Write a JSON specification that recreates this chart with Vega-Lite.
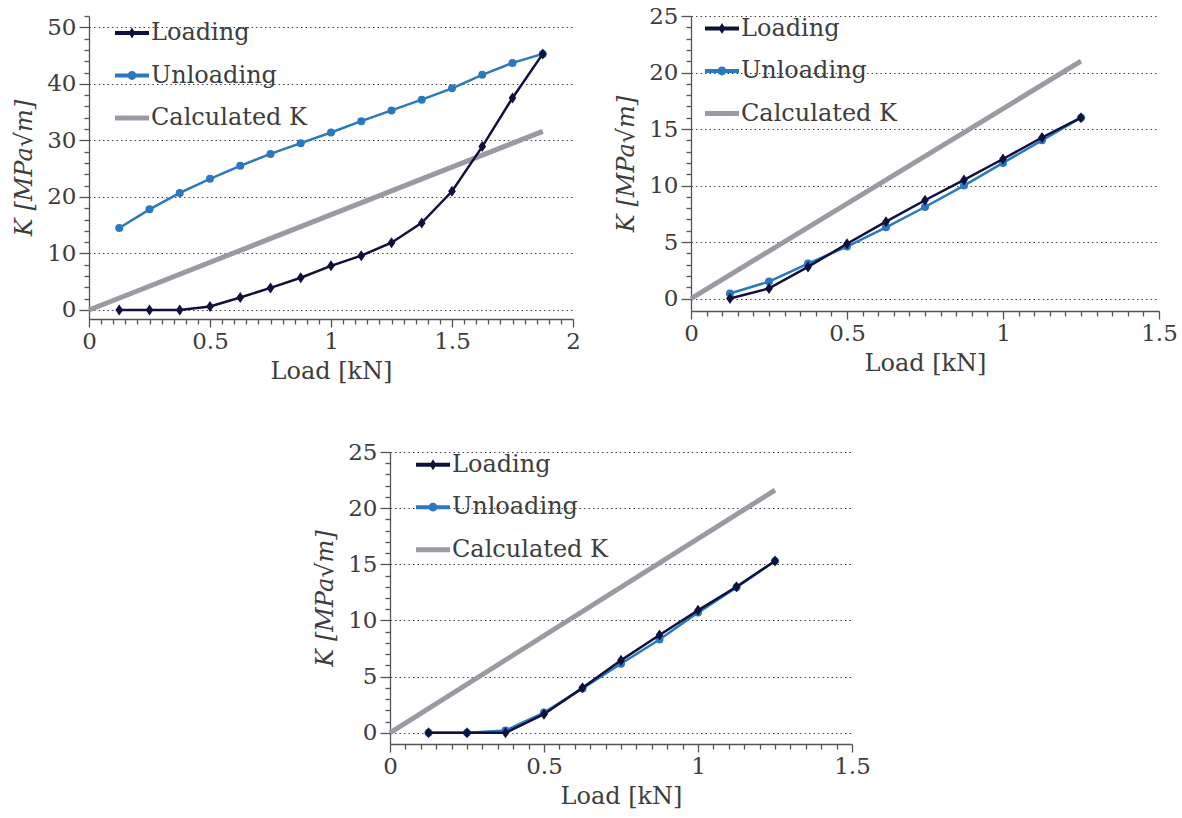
{
  "$schema": "https://vega.github.io/schema/vega-lite/v6.json",
  "padding": {"left": 12, "top": 5, "right": 5, "bottom": 5},
  "spacing": 58,
  "resolve": {"scale": {"color": "independent", "shape": "independent"}},
  "datasets": {
    "main": [
      {"p": 1, "s": "Calculated K", "x": 0, "y": 0},
      {"p": 1, "s": "Calculated K", "x": 1.875, "y": 31.6},
      {"p": 1, "s": "Loading", "x": 0.125, "y": 0},
      {"p": 1, "s": "Loading", "x": 0.25, "y": 0},
      {"p": 1, "s": "Loading", "x": 0.375, "y": 0},
      {"p": 1, "s": "Loading", "x": 0.5, "y": 0.6},
      {"p": 1, "s": "Loading", "x": 0.625, "y": 2.2},
      {"p": 1, "s": "Loading", "x": 0.75, "y": 3.9},
      {"p": 1, "s": "Loading", "x": 0.875, "y": 5.7},
      {"p": 1, "s": "Loading", "x": 1.0, "y": 7.8},
      {"p": 1, "s": "Loading", "x": 1.125, "y": 9.6},
      {"p": 1, "s": "Loading", "x": 1.25, "y": 11.9},
      {"p": 1, "s": "Loading", "x": 1.375, "y": 15.4},
      {"p": 1, "s": "Loading", "x": 1.5, "y": 21.0},
      {"p": 1, "s": "Loading", "x": 1.625, "y": 28.9},
      {"p": 1, "s": "Loading", "x": 1.75, "y": 37.5},
      {"p": 1, "s": "Loading", "x": 1.875, "y": 45.3},
      {"p": 1, "s": "Unloading", "x": 0.125, "y": 14.5},
      {"p": 1, "s": "Unloading", "x": 0.25, "y": 17.8},
      {"p": 1, "s": "Unloading", "x": 0.375, "y": 20.7},
      {"p": 1, "s": "Unloading", "x": 0.5, "y": 23.2},
      {"p": 1, "s": "Unloading", "x": 0.625, "y": 25.5},
      {"p": 1, "s": "Unloading", "x": 0.75, "y": 27.6},
      {"p": 1, "s": "Unloading", "x": 0.875, "y": 29.5},
      {"p": 1, "s": "Unloading", "x": 1.0, "y": 31.4},
      {"p": 1, "s": "Unloading", "x": 1.125, "y": 33.4},
      {"p": 1, "s": "Unloading", "x": 1.25, "y": 35.3},
      {"p": 1, "s": "Unloading", "x": 1.375, "y": 37.2},
      {"p": 1, "s": "Unloading", "x": 1.5, "y": 39.2},
      {"p": 1, "s": "Unloading", "x": 1.625, "y": 41.6},
      {"p": 1, "s": "Unloading", "x": 1.75, "y": 43.7},
      {"p": 1, "s": "Unloading", "x": 1.875, "y": 45.3},
      {"p": 2, "s": "Calculated K", "x": 0, "y": 0},
      {"p": 2, "s": "Calculated K", "x": 1.25, "y": 21.0},
      {"p": 2, "s": "Loading", "x": 0.125, "y": 0},
      {"p": 2, "s": "Loading", "x": 0.25, "y": 0.9},
      {"p": 2, "s": "Loading", "x": 0.375, "y": 2.8},
      {"p": 2, "s": "Loading", "x": 0.5, "y": 4.85},
      {"p": 2, "s": "Loading", "x": 0.625, "y": 6.8},
      {"p": 2, "s": "Loading", "x": 0.75, "y": 8.7},
      {"p": 2, "s": "Loading", "x": 0.875, "y": 10.5},
      {"p": 2, "s": "Loading", "x": 1.0, "y": 12.35},
      {"p": 2, "s": "Loading", "x": 1.125, "y": 14.25},
      {"p": 2, "s": "Loading", "x": 1.25, "y": 16.0},
      {"p": 2, "s": "Unloading", "x": 0.125, "y": 0.45},
      {"p": 2, "s": "Unloading", "x": 0.25, "y": 1.5},
      {"p": 2, "s": "Unloading", "x": 0.375, "y": 3.1},
      {"p": 2, "s": "Unloading", "x": 0.5, "y": 4.6},
      {"p": 2, "s": "Unloading", "x": 0.625, "y": 6.3},
      {"p": 2, "s": "Unloading", "x": 0.75, "y": 8.1},
      {"p": 2, "s": "Unloading", "x": 0.875, "y": 10.0},
      {"p": 2, "s": "Unloading", "x": 1.0, "y": 12.0},
      {"p": 2, "s": "Unloading", "x": 1.125, "y": 14.0},
      {"p": 2, "s": "Unloading", "x": 1.25, "y": 16.0},
      {"p": 3, "s": "Calculated K", "x": 0, "y": 0},
      {"p": 3, "s": "Calculated K", "x": 1.25, "y": 21.6},
      {"p": 3, "s": "Loading", "x": 0.125, "y": 0},
      {"p": 3, "s": "Loading", "x": 0.25, "y": 0},
      {"p": 3, "s": "Loading", "x": 0.375, "y": 0},
      {"p": 3, "s": "Loading", "x": 0.5, "y": 1.65},
      {"p": 3, "s": "Loading", "x": 0.625, "y": 4.0},
      {"p": 3, "s": "Loading", "x": 0.75, "y": 6.45},
      {"p": 3, "s": "Loading", "x": 0.875, "y": 8.7},
      {"p": 3, "s": "Loading", "x": 1.0, "y": 10.9},
      {"p": 3, "s": "Loading", "x": 1.125, "y": 13.0},
      {"p": 3, "s": "Loading", "x": 1.25, "y": 15.3},
      {"p": 3, "s": "Unloading", "x": 0.125, "y": 0},
      {"p": 3, "s": "Unloading", "x": 0.25, "y": 0},
      {"p": 3, "s": "Unloading", "x": 0.375, "y": 0.2},
      {"p": 3, "s": "Unloading", "x": 0.5, "y": 1.8},
      {"p": 3, "s": "Unloading", "x": 0.625, "y": 3.95},
      {"p": 3, "s": "Unloading", "x": 0.75, "y": 6.15},
      {"p": 3, "s": "Unloading", "x": 0.875, "y": 8.3},
      {"p": 3, "s": "Unloading", "x": 1.0, "y": 10.7},
      {"p": 3, "s": "Unloading", "x": 1.125, "y": 12.95},
      {"p": 3, "s": "Unloading", "x": 1.25, "y": 15.3}
    ]
  },
  "vconcat": [
    {
      "bounds": "flush",
      "spacing": 118,
      "resolve": {"scale": {"color": "independent", "shape": "independent"}},
      "hconcat": [
        {
          "width": 484,
          "height": 303,
          "data": {"name": "main"},
          "transform": [{"filter": "datum.p == 1"}],
          "encoding": {
            "x": {"field": "x", "type": "quantitative", "scale": {"domain": [0, 2], "nice": false, "zero": false},
              "axis": {"title": "Load [kN]", "grid": false,
                "values": [0,0.05,0.1,0.15,0.2,0.25,0.3,0.35,0.4,0.45,0.5,0.55,0.6,0.65,0.7,0.75,0.8,0.85,0.9,0.95,1,1.05,1.1,1.15,1.2,1.25,1.3,1.35,1.4,1.45,1.5,1.55,1.6,1.65,1.7,1.75,1.8,1.85,1.9,1.95,2],
                "labelExpr": "abs(datum.value*2 - round(datum.value*2)) < 0.001 ? format(datum.value, '~g') : ''",
                "tickSize": {"condition": {"test": "abs(datum.value*2 - round(datum.value*2)) < 0.001", "value": 8}, "value": 5}}},
            "y": {"field": "y", "type": "quantitative", "scale": {"domain": [-1.6, 52], "nice": false, "zero": false},
              "axis": {"title": "K [MPa√m]", "titleFontStyle": "italic", "grid": true,
                "values": [0,2,4,6,8,10,12,14,16,18,20,22,24,26,28,30,32,34,36,38,40,42,44,46,48,50,52],
                "labelExpr": "datum.value % 10 == 0 ? format(datum.value, '~g') : ''",
                "tickSize": {"condition": {"test": "datum.value % 10 == 0", "value": 10}, "value": 5},
                "gridOpacity": {"condition": {"test": "datum.value % 10 == 0", "value": 1}, "value": 0}}}
          },
          "layer": [
            {"transform": [{"filter": "datum.s == 'Calculated K'"}], "mark": {"type": "line", "color": "#9c99a2", "strokeWidth": 5}},
            {"transform": [{"filter": "datum.s == 'Unloading'"}], "mark": {"type": "line", "color": "#2a78bd", "strokeWidth": 2.5, "point": {"filled": true, "shape": "circle", "size": 64, "color": "#2a78bd", "opacity": 1}}},
            {"transform": [{"filter": "datum.s == 'Loading'"}], "mark": {"type": "line", "color": "#10103f", "strokeWidth": 2.5, "point": {"filled": true, "shape": "M0,-1L0.7,0L0,1L-0.7,0Z", "size": 121, "color": "#10103f", "opacity": 1}}},
            {"transform": [{"filter": "false"}], "mark": {"type": "point", "filled": true, "opacity": 1},
              "encoding": {
                "color": {"field": "s", "type": "nominal", "scale": {"domain": ["Loading", "Unloading", "Calculated K"], "range": ["#10103f", "#2a78bd", "#9c99a2"]},
                  "legend": {"title": null, "orient": "none", "legendX": 26, "legendY": 0}},
                "shape": {"field": "s", "type": "nominal", "scale": {"domain": ["Loading", "Unloading", "Calculated K"], "range": ["M-1,-0.12H1V0.12H-1Z M0,-0.32L0.2,0L0,0.32L-0.2,0Z", "M-1,-0.12H1V0.12H-1Z M0.26,0A0.26,0.26 0 1,1 -0.26,0A0.26,0.26 0 1,1 0.26,0Z", "M-1,-0.15H1V0.15H-1Z"]},
                  "legend": {"title": null, "orient": "none", "legendX": 26, "legendY": 0}}
              }}
          ]
        },
        {
          "width": 468,
          "height": 295,
          "data": {"name": "main"},
          "transform": [{"filter": "datum.p == 2"}],
          "encoding": {
            "x": {"field": "x", "type": "quantitative", "scale": {"domain": [0, 1.5], "nice": false, "zero": false},
              "axis": {"title": "Load [kN]", "grid": false,
                "values": [0,0.05,0.1,0.15,0.2,0.25,0.3,0.35,0.4,0.45,0.5,0.55,0.6,0.65,0.7,0.75,0.8,0.85,0.9,0.95,1,1.05,1.1,1.15,1.2,1.25,1.3,1.35,1.4,1.45,1.5],
                "labelExpr": "abs(datum.value*2 - round(datum.value*2)) < 0.001 ? format(datum.value, '~g') : ''",
                "tickSize": {"condition": {"test": "abs(datum.value*2 - round(datum.value*2)) < 0.001", "value": 8}, "value": 5}}},
            "y": {"field": "y", "type": "quantitative", "scale": {"domain": [-1.1, 25], "nice": false, "zero": false},
              "axis": {"title": "K [MPa√m]", "titleFontStyle": "italic", "grid": true,
                "values": [0,1,2,3,4,5,6,7,8,9,10,11,12,13,14,15,16,17,18,19,20,21,22,23,24,25],
                "labelExpr": "datum.value % 5 == 0 ? format(datum.value, '~g') : ''",
                "tickSize": {"condition": {"test": "datum.value % 5 == 0", "value": 10}, "value": 5},
                "gridOpacity": {"condition": {"test": "datum.value % 5 == 0", "value": 1}, "value": 0}}}
          },
          "layer": [
            {"transform": [{"filter": "datum.s == 'Calculated K'"}], "mark": {"type": "line", "color": "#9c99a2", "strokeWidth": 5}},
            {"transform": [{"filter": "datum.s == 'Unloading'"}], "mark": {"type": "line", "color": "#2a78bd", "strokeWidth": 2.5, "point": {"filled": true, "shape": "circle", "size": 64, "color": "#2a78bd", "opacity": 1}}},
            {"transform": [{"filter": "datum.s == 'Loading'"}], "mark": {"type": "line", "color": "#10103f", "strokeWidth": 2.5, "point": {"filled": true, "shape": "M0,-1L0.7,0L0,1L-0.7,0Z", "size": 121, "color": "#10103f", "opacity": 1}}},
            {"transform": [{"filter": "false"}], "mark": {"type": "point", "filled": true, "opacity": 1},
              "encoding": {
                "color": {"field": "s", "type": "nominal", "scale": {"domain": ["Loading", "Unloading", "Calculated K"], "range": ["#10103f", "#2a78bd", "#9c99a2"]},
                  "legend": {"title": null, "orient": "none", "legendX": 14, "legendY": -4.5}},
                "shape": {"field": "s", "type": "nominal", "scale": {"domain": ["Loading", "Unloading", "Calculated K"], "range": ["M-1,-0.12H1V0.12H-1Z M0,-0.32L0.2,0L0,0.32L-0.2,0Z", "M-1,-0.12H1V0.12H-1Z M0.26,0A0.26,0.26 0 1,1 -0.26,0A0.26,0.26 0 1,1 0.26,0Z", "M-1,-0.15H1V0.15H-1Z"]},
                  "legend": {"title": null, "orient": "none", "legendX": 14, "legendY": -4.5}}
              }}
          ]
        }
      ]
    },
    {
      "bounds": "flush",
      "spacing": 20,
      "resolve": {"scale": {"color": "independent", "shape": "independent"}},
      "hconcat": [
        {
          "width": 281,
          "height": 10,
          "data": {"values": [{"a": 1}]},
          "mark": {"type": "point", "opacity": 0},
          "encoding": {}
        },
        {
          "width": 462,
          "height": 292,
          "data": {"name": "main"},
          "transform": [{"filter": "datum.p == 3"}],
          "encoding": {
            "x": {"field": "x", "type": "quantitative", "scale": {"domain": [0, 1.5], "nice": false, "zero": false},
              "axis": {"title": "Load [kN]", "grid": false,
                "values": [0,0.05,0.1,0.15,0.2,0.25,0.3,0.35,0.4,0.45,0.5,0.55,0.6,0.65,0.7,0.75,0.8,0.85,0.9,0.95,1,1.05,1.1,1.15,1.2,1.25,1.3,1.35,1.4,1.45,1.5],
                "labelExpr": "abs(datum.value*2 - round(datum.value*2)) < 0.001 ? format(datum.value, '~g') : ''",
                "tickSize": {"condition": {"test": "abs(datum.value*2 - round(datum.value*2)) < 0.001", "value": 8}, "value": 5}}},
            "y": {"field": "y", "type": "quantitative", "scale": {"domain": [-1, 25], "nice": false, "zero": false},
              "axis": {"title": "K [MPa√m]", "titleFontStyle": "italic", "grid": true,
                "values": [0,1,2,3,4,5,6,7,8,9,10,11,12,13,14,15,16,17,18,19,20,21,22,23,24,25],
                "labelExpr": "datum.value % 5 == 0 ? format(datum.value, '~g') : ''",
                "tickSize": {"condition": {"test": "datum.value % 5 == 0", "value": 10}, "value": 5},
                "gridOpacity": {"condition": {"test": "datum.value % 5 == 0", "value": 1}, "value": 0}}}
          },
          "layer": [
            {"transform": [{"filter": "datum.s == 'Calculated K'"}], "mark": {"type": "line", "color": "#9c99a2", "strokeWidth": 5}},
            {"transform": [{"filter": "datum.s == 'Unloading'"}], "mark": {"type": "line", "color": "#2a78bd", "strokeWidth": 2.5, "point": {"filled": true, "shape": "circle", "size": 64, "color": "#2a78bd", "opacity": 1}}},
            {"transform": [{"filter": "datum.s == 'Loading'"}], "mark": {"type": "line", "color": "#10103f", "strokeWidth": 2.5, "point": {"filled": true, "shape": "M0,-1L0.7,0L0,1L-0.7,0Z", "size": 121, "color": "#10103f", "opacity": 1}}},
            {"transform": [{"filter": "false"}], "mark": {"type": "point", "filled": true, "opacity": 1},
              "encoding": {
                "color": {"field": "s", "type": "nominal", "scale": {"domain": ["Loading", "Unloading", "Calculated K"], "range": ["#10103f", "#2a78bd", "#9c99a2"]},
                  "legend": {"title": null, "orient": "none", "legendX": 26, "legendY": -4.3}},
                "shape": {"field": "s", "type": "nominal", "scale": {"domain": ["Loading", "Unloading", "Calculated K"], "range": ["M-1,-0.12H1V0.12H-1Z M0,-0.32L0.2,0L0,0.32L-0.2,0Z", "M-1,-0.12H1V0.12H-1Z M0.26,0A0.26,0.26 0 1,1 -0.26,0A0.26,0.26 0 1,1 0.26,0Z", "M-1,-0.15H1V0.15H-1Z"]},
                  "legend": {"title": null, "orient": "none", "legendX": 26, "legendY": -4.3}}
              }}
          ]
        }
      ]
    }
  ],
  "config": {
    "view": {"stroke": null},
    "font": "DejaVu Serif",
    "axis": {
      "domainColor": "#555555", "domainWidth": 1.3,
      "tickColor": "#555555", "tickWidth": 1.3,
      "labelColor": "#3d3d3d", "labelFont": "DejaVu Serif", "labelFontSize": 23, "labelPadding": 3,
      "labelOverlap": false, "labelFlush": false, "labelBound": false,
      "titleFont": "DejaVu Serif", "titleFontSize": 24, "titleFontWeight": "normal", "titleColor": "#3d3d3d",
      "gridColor": "#444444", "gridDash": [1.5, 3], "gridWidth": 1
    },
    "axisY": {"titlePadding": 10},
    "axisX": {"titlePadding": 6},
    "legend": {
      "labelFont": "DejaVu Serif", "labelFontSize": 24, "labelColor": "#3d3d3d",
      "symbolSize": 1156, "rowPadding": 13.5, "padding": 0, "labelOffset": 2,
      "symbolStrokeWidth": 0, "symbolOpacity": 1
    }
  }
}
